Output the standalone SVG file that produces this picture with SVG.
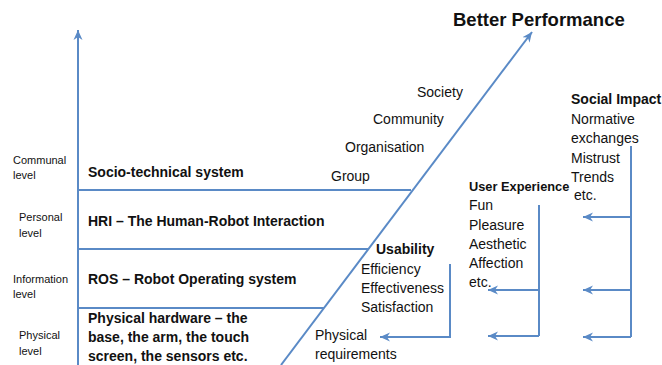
<svg xmlns="http://www.w3.org/2000/svg" width="662" height="365" viewBox="0 0 662 365">
<defs>
<marker id="ah" markerUnits="userSpaceOnUse" markerWidth="12" markerHeight="10" refX="10" refY="5" orient="auto">
<path d="M0,0.5 L10,5 L0,9.5 L3,5 z" fill="#5a8ac6"/>
</marker>
<style>
.ln{stroke:#5a8ac6;stroke-width:2;fill:none}
.ar{stroke:#5a8ac6;stroke-width:2;fill:none;marker-end:url(#ah)}
text{font-family:"Liberation Sans",Arial,sans-serif;fill:#111}
.lv{font-size:11px}
.b{font-weight:bold;font-size:14px}
.t{font-size:14px}
.h{font-weight:bold;font-size:18.5px}
</style>
</defs>
<rect width="662" height="365" fill="#fff"/>
<g id="connectors">
<line class="ar" x1="78" y1="365" x2="78" y2="30"/>
<line class="ar" x1="281" y1="365" x2="532" y2="32"/>
<line class="ln" x1="78" y1="190" x2="411" y2="190"/>
<line class="ln" x1="78" y1="249" x2="369" y2="249"/>
<line class="ln" x1="78" y1="308" x2="324" y2="308"/>
<polyline class="ar" points="450,264 450,337 380,337"/>
<line class="ln" x1="539" y1="205" x2="539" y2="336"/>
<line class="ar" x1="539" y1="290" x2="488" y2="290"/>
<line class="ar" x1="539" y1="336" x2="488" y2="336"/>
<line class="ln" x1="631" y1="146" x2="631" y2="337"/>
<line class="ar" x1="631" y1="217" x2="583" y2="217"/>
<line class="ar" x1="631" y1="290" x2="583" y2="290"/>
<line class="ar" x1="631" y1="337" x2="583" y2="337"/>
</g>
<g id="levels">
<text class="lv" x="13" y="164">Communal</text>
<text class="lv" x="13" y="179">level</text>
<text class="lv" x="19" y="221">Personal</text>
<text class="lv" x="19" y="237">level</text>
<text class="lv" x="13" y="283">Information</text>
<text class="lv" x="13" y="298">level</text>
<text class="lv" x="19" y="339">Physical</text>
<text class="lv" x="19" y="355">level</text>
</g>
<g id="socio"><text class="b" x="88" y="177">Socio-technical system</text></g>
<g id="hri"><text class="b" x="88" y="226">HRI – The Human-Robot Interaction</text></g>
<g id="ros"><text class="b" x="88" y="284">ROS – Robot Operating system</text></g>
<g id="hardware">
<text class="b" x="88" y="323">Physical hardware – the</text>
<text class="b" x="88" y="342">base, the arm, the touch</text>
<text class="b" x="88" y="361">screen, the sensors etc.</text>
</g>
<g id="better"><text class="h" x="453" y="26">Better Performance</text></g>
<g id="groups">
<text class="t" x="417" y="97">Society</text>
<text class="t" x="373" y="124">Community</text>
<text class="t" x="345" y="152">Organisation</text>
<text class="t" x="331" y="181">Group</text>
</g>
<g id="social">
<text class="b" x="571" y="104">Social Impact</text>
<text class="t" x="571" y="124">Normative</text>
<text class="t" x="571" y="143">exchanges</text>
<text class="t" x="571" y="163">Mistrust</text>
<text class="t" x="571" y="182">Trends</text>
<text class="t" x="574" y="200">etc.</text>
</g>
<g id="ux">
<text class="b" x="469" y="191" style="font-size:12.8px">User Experience</text>
<text class="t" x="469" y="210">Fun</text>
<text class="t" x="469" y="230">Pleasure</text>
<text class="t" x="469" y="249">Aesthetic</text>
<text class="t" x="469" y="268">Affection</text>
<text class="t" x="469" y="287">etc.</text>
</g>
<g id="usability">
<text class="b" x="376" y="254">Usability</text>
<text class="t" x="361" y="274">Efficiency</text>
<text class="t" x="361" y="293">Effectiveness</text>
<text class="t" x="361" y="312">Satisfaction</text>
</g>
<g id="physreq">
<text class="t" x="315" y="340">Physical</text>
<text class="t" x="315" y="359">requirements</text>
</g>
</svg>
